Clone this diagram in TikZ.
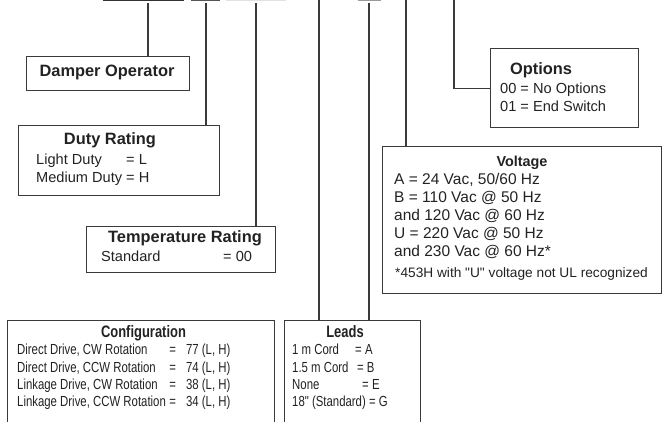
\documentclass[tikz,border=0pt]{standalone}
\usepackage{fontspec}
\setmainfont{Liberation Sans}[Ligatures=TeXOff]
\newfontfamily\narrowsans{Liberation Sans}[FakeStretch=0.78, Ligatures=TeXOff]
\usetikzlibrary{positioning}
\definecolor{ordink}{HTML}{222222}
\definecolor{ordline}{HTML}{3A3A3A}
\definecolor{ordbarA}{HTML}{333333}
\definecolor{ordbarB}{HTML}{555555}
\definecolor{ordbarC}{HTML}{E2E2E2}
\definecolor{ordbarD}{HTML}{9A9A9A}
\tikzset{
  fieldBox/.style={draw=ordline, line width=1.4pt, inner sep=0pt, anchor=north west},
  topField/.style={line width=1.6pt, inner sep=0pt, minimum height=30pt, anchor=south west},
  codeLine/.style={draw=ordline, line width=1.2pt},
  headText/.style={text=ordink, inner sep=0pt, anchor=base, font=\fontsize{16.4}{18}\selectfont\bfseries},
  bodyText/.style={text=ordink, inner sep=0pt, anchor=base west, font=\fontsize{14.6}{18}\selectfont},
  narrowHead/.style={text=ordink, inner sep=0pt, anchor=base, font=\narrowsans\fontsize{16.6}{18}\selectfont\bfseries},
  narrowBody/.style={text=ordink, inner sep=0pt, anchor=base west, font=\narrowsans\fontsize{14.6}{17.3}\selectfont}
}

\begin{document}
\begin{tikzpicture}[x=1pt, y=-1pt]
  \useasboundingbox (0,0) rectangle (665,422);
  \clip (0,0) rectangle (665,422);

  \node[topField, draw=ordbarA, minimum width=79pt] (opfield) at (103,1) {};
  \node[topField, draw=ordbarB, minimum width=27pt] (dutyfield) at (191,1) {};
  \node[topField, draw=ordbarC, minimum width=58pt] (tempfield) at (226,1) {};
  \node[topField, draw=ordbarD, minimum width=21pt] (leadfield) at (358,1) {};

  \node[fieldBox, minimum width=163pt, minimum height=34pt] (damper) at (26,56) {};
  \node[fieldBox, minimum width=201pt, minimum height=70pt] (duty) at (18,125) {};
  \node[fieldBox, minimum width=189pt, minimum height=46pt] (temp) at (86,226) {};
  \node[fieldBox, minimum width=148pt, minimum height=79pt] (options) at (490,48) {};
  \node[fieldBox, minimum width=279pt, minimum height=147pt] (voltage) at (382,146) {};
  \node[fieldBox, minimum width=267pt, minimum height=130pt] (config) at (7,320) {};
  \node[fieldBox, minimum width=136pt, minimum height=130pt] (leads) at (284,320) {};

  \node[headText] (dampertitle) at (107,77) {Damper Operator};

  \node[headText] (dutytitle) at (110,145) {Duty Rating};
  \node[bodyText] (dutycodes) at (36,165) {\begin{tabular}[t]{@{}l@{ }l@{}}
    Light Duty & = L\\
    Medium Duty & = H
  \end{tabular}};

  \node[headText] (temptitle) at (185,243) {Temperature Rating};
  \node[bodyText] (tempcodes) at (101,262) {\makebox[122pt][l]{Standard}= 00};

  \node[headText] (optiontitle) at (541,75) {Options};
  \node[bodyText] (optioncodes) at (500,94) {\begin{tabular}[t]{@{}l@{}}
    00 = No Options\\
    01 = End Switch
  \end{tabular}};

  \node[headText, font=\fontsize{14.4}{18}\selectfont\bfseries] (volttitle) at (522,167) {Voltage};
  \node[bodyText, font=\fontsize{15.5}{18}\selectfont] (voltcodes) at (394,185) {\begin{tabular}[t]{@{}l@{}}
    A = 24 Vac, 50/60 Hz\\
    B = 110 Vac @ 50 Hz\\
    and 120 Vac @ 60 Hz\\
    U = 220 Vac @ 50 Hz\\
    and 230 Vac @ 60 Hz*
  \end{tabular}};
  \node[bodyText, font=\fontsize{13.7}{16}\selectfont] (voltnote) at (395,278) {*453H with "U" voltage not UL recognized};

  \node[narrowHead] (configtitle) at (143.5,338) {Configuration};
  \node[narrowBody] (configcodes) at (17,355) {\begin{tabular}[t]{@{}l@{\hspace{3.5pt}}l@{\hspace{10pt}}l@{}}
    Direct Drive, CW Rotation & = & 77 (L, H)\\
    Direct Drive, CCW Rotation & = & 74 (L, H)\\
    Linkage Drive, CW Rotation & = & 38 (L, H)\\
    Linkage Drive, CCW Rotation & = & 34 (L, H)
  \end{tabular}};

  \node[narrowHead] (leadtitle) at (345,338) {Leads};
  \node[narrowBody] (leadcodes) at (292,355) {\begin{tabular}[t]{@{}l@{}}
    \makebox[63pt][l]{1 m Cord}= A\\
    \makebox[65pt][l]{1.5 m Cord}= B\\
    \makebox[70pt][l]{None}= E\\
    18" (Standard) = G
  \end{tabular}};

  \coordinate (opdrop) at (148,3);
  \coordinate (dutydrop) at (206,3);
  \coordinate (tempdrop) at (256,3);
  \coordinate (configdrop) at (319,-5);
  \coordinate (leaddrop) at (369,3);
  \coordinate (voltdrop) at (406,-5);
  \coordinate (optiondrop) at (454,-5);

  \draw[codeLine] (opdrop) -- (opdrop |- damper.north);
  \draw[codeLine] (dutydrop) -- (dutydrop |- duty.north);
  \draw[codeLine] (tempdrop) -- (tempdrop |- temp.north);
  \draw[codeLine] (configdrop) -- (configdrop |- config.north);
  \draw[codeLine] (leaddrop) -- (leaddrop |- leads.north);
  \draw[codeLine] (voltdrop) -- (voltdrop |- voltage.north);
  \draw[codeLine] (optiondrop) |- (options.west);
\end{tikzpicture}
\end{document}
